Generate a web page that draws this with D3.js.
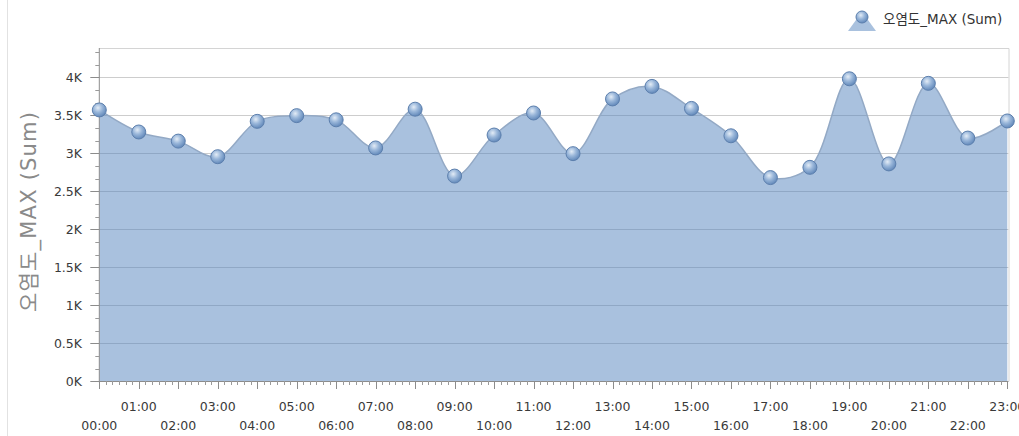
<!DOCTYPE html>
<html><head><meta charset="utf-8">
<script src="https://cdn.jsdelivr.net/npm/d3@7"></script>
<style>html,body{margin:0;padding:0;background:#fff;}svg{display:block;}</style>
</head><body>
<svg id="chart" width="1019" height="436"></svg>
<script>
const hours = ["00:00","01:00","02:00","03:00","04:00","05:00","06:00","07:00","08:00","09:00","10:00","11:00",
               "12:00","13:00","14:00","15:00","16:00","17:00","18:00","19:00","20:00","21:00","22:00","23:00"];
const values = [3570,3280,3160,2955,3420,3495,3440,3070,3580,2700,3240,3530,
                2995,3715,3880,3590,3230,2680,2815,3980,2860,3920,3200,3425];
const yTicks = [0,500,1000,1500,2000,2500,3000,3500,4000];
const yTickLabels = ["0K","0.5K","1K","1.5K","2K","2.5K","3K","3.5K","4K"];
const seriesName = "오염도_MAX (Sum)";
const yMax = 4385;

const svg = d3.select("#chart");
const L = 99.3, R = 1007.3, T = 48, B = 381.3, FR = 1008.5;
const x = d3.scaleLinear().domain([0, hours.length - 1]).range([L, R]);
const y = d3.scaleLinear().domain([0, yMax]).range([B, T]);
const font = "'DejaVu Sans','Noto Sans CJK KR',sans-serif";

// outer left border
svg.append("line").attr("x1",7.5).attr("x2",7.5).attr("y1",0).attr("y2",436).attr("stroke","#e2e2e2");

// defs
const defs = svg.append("defs");
const g1 = defs.append("radialGradient").attr("id","mk").attr("cx","40%").attr("cy","35%").attr("r","70%");
g1.append("stop").attr("offset","0%").attr("stop-color","#e3ecf6");
g1.append("stop").attr("offset","45%").attr("stop-color","#9ab7da");
g1.append("stop").attr("offset","100%").attr("stop-color","#5b83b6");

// gridlines
svg.append("g").selectAll("line").data(yTicks.filter(d => d > 0)).join("line")
  .attr("x1", L).attr("x2", FR).attr("y1", d => Math.round(y(d)) + 0.5).attr("y2", d => Math.round(y(d)) + 0.5)
  .attr("stroke", "#cdcdcd");

// frame
svg.append("path").attr("d", `M${L},${T+0.5}H${FR+0.5}V${B}`).attr("fill","none").attr("stroke","#d4d4d4");

// area
const curve = d3.curveCatmullRom.alpha(0.5);
const area = d3.area().x((d,i) => x(i)).y0(y(0)).y1(d => y(d)).curve(curve);
const line = d3.line().x((d,i) => x(i)).y(d => y(d)).curve(curve);
svg.append("path").datum(values).attr("d", area).attr("fill", "rgb(84,132,190)").attr("fill-opacity", 0.5);
svg.append("path").datum(values).attr("d", line).attr("fill", "none").attr("stroke", "#93a9c5").attr("stroke-width", 1.5);

// y axis
const ya = svg.append("g");
ya.append("line").attr("x1", L).attr("x2", L).attr("y1", T).attr("y2", B + 1).attr("stroke", "#8c8c8c");
const yMinor = d3.range(0, yMax, 500/3).filter(v => Math.abs(v/500 - Math.round(v/500)) > 0.01);
ya.selectAll(".ymn").data(yMinor).join("line").attr("class","ymn")
  .attr("x1", L - 4).attr("x2", L).attr("y1", d => Math.round(y(d)) + 0.5).attr("y2", d => Math.round(y(d)) + 0.5)
  .attr("stroke", "#9a9a9a");
ya.selectAll(".ymj").data(yTicks).join("line").attr("class","ymj")
  .attr("x1", L - 9).attr("x2", L).attr("y1", d => Math.round(y(d)) + 0.5).attr("y2", d => Math.round(y(d)) + 0.5)
  .attr("stroke", "#8c8c8c");
ya.selectAll("text").data(yTicks).join("text")
  .attr("x", 82).attr("y", d => y(d)).attr("dy", "0.36em").attr("text-anchor", "end")
  .attr("font-family", font).attr("font-size", 12.5).attr("fill", "#3a3a3a")
  .text((d,i) => yTickLabels[i]);

// y title
svg.append("text").attr("transform", `translate(36,${212}) rotate(-90)`)
  .attr("text-anchor", "middle").attr("font-family", font).attr("font-size", 21).attr("fill", "#8a8a8a")
  .attr("textLength", 200).attr("lengthAdjust", "spacing")
  .text(seriesName);

// x axis
const xa = svg.append("g");
xa.append("line").attr("x1", L).attr("x2", FR).attr("y1", Math.round(B) + 0.5).attr("y2", Math.round(B) + 0.5).attr("stroke", "#8c8c8c");
const xMinor = d3.range(0, hours.length - 1, 1/6).filter(v => Math.abs(v - Math.round(v)) > 0.01);
xa.selectAll(".xmn").data(xMinor).join("line").attr("class","xmn")
  .attr("x1", d => Math.round(x(d)) + 0.5).attr("x2", d => Math.round(x(d)) + 0.5)
  .attr("y1", Math.round(B)).attr("y2", Math.round(B) + 4).attr("stroke", "#9a9a9a");
xa.selectAll(".xmj").data(hours).join("line").attr("class","xmj")
  .attr("x1", (d,i) => Math.round(x(i)) + 0.5).attr("x2", (d,i) => Math.round(x(i)) + 0.5)
  .attr("y1", Math.round(B)).attr("y2", Math.round(B) + 8).attr("stroke", "#8c8c8c");
xa.selectAll("text").data(hours).join("text")
  .attr("x", (d,i) => x(i)).attr("y", (d,i) => i % 2 ? 406 : 425.5).attr("dy", "0.36em")
  .attr("text-anchor", "middle").attr("font-family", font).attr("font-size", 12.5).attr("fill", "#3a3a3a")
  .text(d => d);

// markers
svg.append("g").selectAll("circle").data(values).join("circle")
  .attr("cx", (d,i) => x(i)).attr("cy", d => y(d)).attr("r", 7)
  .attr("fill", "url(#mk)").attr("stroke", "#5c7fad").attr("stroke-width", 1);

// legend
const lg = svg.append("g");
lg.append("path").attr("d", "M848,31 L856,20 L868,20 L876,31 Z").attr("fill", "#a9c1de");
lg.append("circle").attr("cx", 862).attr("cy", 17).attr("r", 6).attr("fill", "url(#mk)").attr("stroke", "#5c7fad");
lg.append("text").attr("x", 883).attr("y", 19).attr("dy", "0.36em").attr("font-family", font)
  .attr("font-size", 13.5).attr("fill", "#333").text(seriesName);
</script>
</body></html>
